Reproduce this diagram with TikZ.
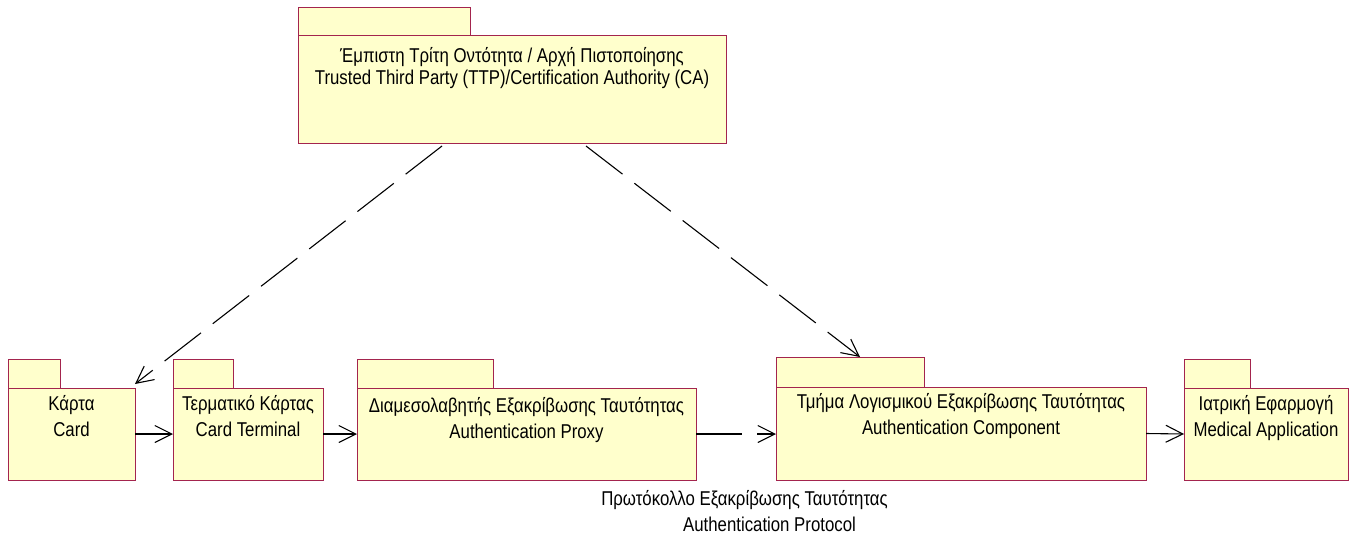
\documentclass[tikz,border=0pt]{standalone}
\usepackage{fontspec}
\setmainfont{Liberation Sans}[FakeStretch=0.84]
\usetikzlibrary{arrows.meta}
\definecolor{pkgfill}{HTML}{FFFFCC}
\definecolor{pkgline}{HTML}{A3244E}
% first-line strut so that every label hangs from the same cap line
\newcommand\capstrut{\rule{0pt}{16pt}}
\tikzset{
  pkg/.style={draw=pkgline, fill=pkgfill, line width=1pt, rectangle,
    inner sep=0pt, outer sep=0pt, anchor=north west},
  pkgtext/.style={align=center, inner sep=0pt, anchor=north,
    font=\fontsize{20}{26}\selectfont},
  flow/.style={draw=black, line width=1.1pt,
    -{Straight Barb[length=17pt,width=17pt]}},
  dep/.style={flow, dash pattern=on 46pt off 15pt},
}
\begin{document}
\begin{tikzpicture}[x=1pt, y=-1pt]
\useasboundingbox (0,0) rectangle (1356,533);

% Trusted third party package
\node[pkg, minimum width=172pt, minimum height=28pt] (ttptab) at (298,7) {};
\node[pkg, minimum width=428pt, minimum height=108pt] (ttp) at (298,35) {};
\node[pkgtext, font=\fontsize{20}{22}\selectfont] (ttptxt) at (512,46)
  {\capstrut Έμπιστη Τρίτη Οντότητα / Αρχή Πιστοποίησης\\
   Trusted Third Party (TTP)/Certification Authority (CA)};

% Card
\node[pkg, minimum width=52pt, minimum height=29pt] (cardtab) at (8,359) {};
\node[pkg, minimum width=127pt, minimum height=92pt] (card) at (8,388) {};
\node[pkgtext] (cardtxt) at (71.5,394) {\capstrut Κάρτα\\Card};

% Card terminal
\node[pkg, minimum width=60pt, minimum height=29pt] (termtab) at (173,359) {};
\node[pkg, minimum width=150pt, minimum height=92pt] (term) at (173,388) {};
\node[pkgtext] (termtxt) at (248,394) {\capstrut Τερματικό Κάρτας\\Card Terminal};

% Authentication proxy
\node[pkg, minimum width=136pt, minimum height=29pt] (proxytab) at (357,359) {};
\node[pkg, minimum width=339pt, minimum height=92pt] (proxy) at (357,388) {};
\node[pkgtext] (proxytxt) at (526.5,396)
  {\capstrut Διαμεσολαβητής Εξακρίβωσης Ταυτότητας\\Authentication Proxy};

% Authentication component
\node[pkg, minimum width=148pt, minimum height=30pt] (comptab) at (776,357) {};
\node[pkg, minimum width=370pt, minimum height=93pt] (comp) at (776,387) {};
\node[pkgtext] (comptxt) at (961,392)
  {\capstrut Τμήμα Λογισμικού Εξακρίβωσης Ταυτότητας\\Authentication Component};

% Medical application
\node[pkg, minimum width=66pt, minimum height=29pt] (medtab) at (1184,359) {};
\node[pkg, minimum width=164pt, minimum height=92pt] (med) at (1184,388) {};
\node[pkgtext] (medtxt) at (1266,394) {\capstrut Ιατρική Εφαρμογή\\Medical Application};

% protocol label
\node[pkgtext] (proto) at (744.5,489)
  {\capstrut Πρωτόκολλο Εξακρίβωσης Ταυτότητας\\\hspace*{50pt}Authentication Protocol};

% dependency end points
\coordinate (ttpL) at (442,146);
\coordinate (ttpR) at (586,146);
\coordinate (cardIn) at (135,384);
\coordinate (compIn) at (860,357);

% connectors
\draw[dep] (ttpL) -- (cardIn);
\draw[dep] (ttpR) -- (compIn);
\draw[flow] (card.east) -- (term.west);
\draw[flow] (term.east) -- (proxy.west);
\draw[dep] (proxy.east) -- (comp.west |- proxy.east);
\draw[flow] (comp.east) -- (med.west);
\end{tikzpicture}
\end{document}
